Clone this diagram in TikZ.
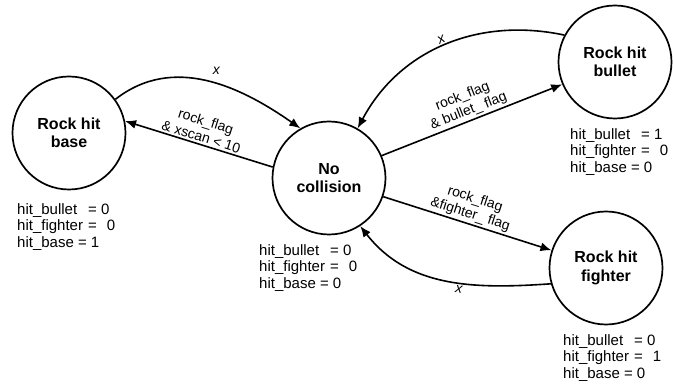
\documentclass[tikz,border=0pt]{standalone}
\usepackage{fontspec}
\setmainfont{Liberation Sans}
\usetikzlibrary{arrows.meta}
\begin{document}
\begin{tikzpicture}[x=1pt,y=-1pt,
    state/.style={circle,draw,line width=1.7pt,minimum size=113pt,inner sep=0pt,
                  align=center,font=\fontsize{16}{18.5}\selectfont\bfseries},
    info/.style={anchor=west,align=left,inner sep=0pt,font=\fontsize{15}{16.5}\selectfont},
    guard/.style={align=center,inner sep=2pt,font=\fontsize{14}{16}\selectfont},
    edge/.style={line width=1.6pt,-{Latex[length=11pt,width=9pt]}}]
  \useasboundingbox (0,0) rectangle (673,385);
  % the four states
  \node[state] (base)    at (69,133)  {Rock hit\\base};
  \node[state] (nocol)   at (329,178) {No\\collision};
  \node[state] (bullet)  at (615,62)  {Rock hit\\bullet};
  \node[state] (fighter) at (606,268) {Rock hit\\fighter};
  % flag values under each state
  \node[info] (baseinfo) at (17,227)
    {\makebox[71pt][l]{hit\_bullet}= 0\\\makebox[71pt][l]{hit\_fighter}=\hspace{10pt}0\\hit\_base = 1};
  \node[info] (nocolinfo) at (259,268)
    {\makebox[71pt][l]{hit\_bullet}= 0\\\makebox[71pt][l]{hit\_fighter}=\hspace{10pt}0\\hit\_base = 0};
  \node[info] (bulletinfo) at (570,152)
    {\makebox[71pt][l]{hit\_bullet}= 1\\\makebox[71pt][l]{hit\_fighter}=\hspace{10pt}0\\hit\_base = 0};
  \node[info] (fighterinfo) at (563,358)
    {\makebox[71pt][l]{hit\_bullet}= 0\\\makebox[71pt][l]{hit\_fighter}=\hspace{10pt}1\\hit\_base = 0};
  % base <-> no collision
  \draw[edge] (base.36) to[out=38,in=145]
    node[guard,pos=.55,above=6pt] {\textit{x}} (nocol.120);
  \draw[edge] (nocol.169) -- node[guard,midway,above,sloped]
    {rock\_flag\\\& xscan < 10} (base.12);
  % no collision <-> bullet
  \draw[edge] (nocol.23) -- node[guard,midway,above,sloped]
    {rock\_flag\\\& bullet\_ flag} (bullet.203);
  \draw[edge] (bullet.152) to[out=168,in=62]
    node[guard,pos=.5,above,sloped] {\textit{x}} (nocol.60);
  % no collision <-> fighter
  \draw[edge] (nocol.-19) -- node[guard,midway,above,sloped]
    {rock\_flag\\\&fighter\_ flag} (fighter.162);
  \draw[edge] (fighter.196) to[out=184,in=-52]
    node[guard,pos=.42,below,sloped] {\textit{x}} (nocol.-57);
\end{tikzpicture}
\end{document}
